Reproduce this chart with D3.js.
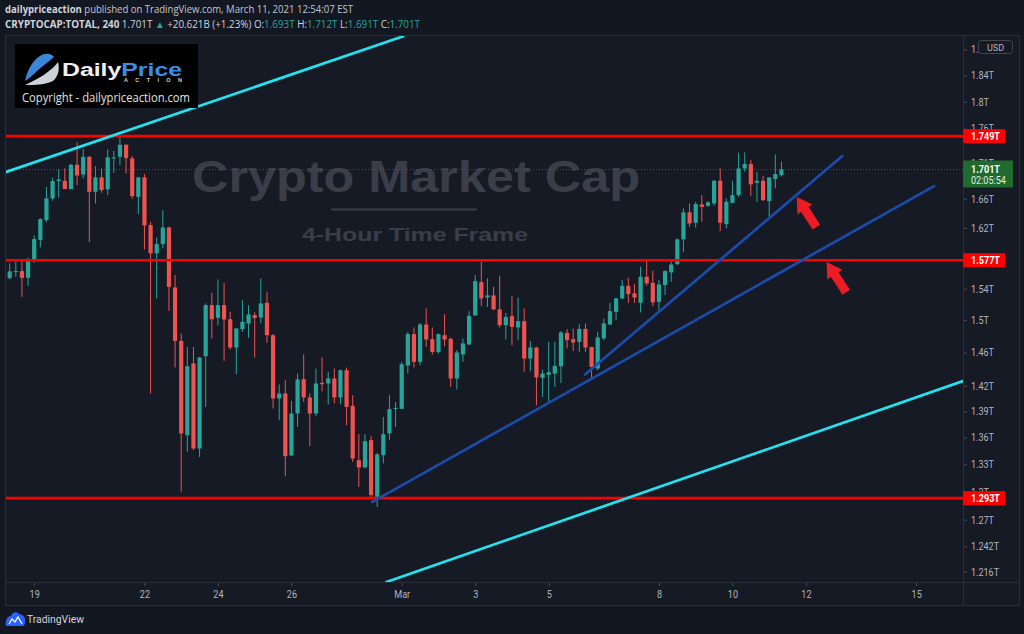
<!DOCTYPE html>
<html><head><meta charset="utf-8">
<script src="https://cdn.jsdelivr.net/npm/d3@7"></script>
<style>
html,body{margin:0;padding:0;background:#131722;overflow:hidden;}
svg{display:block;}
</style></head><body>
<svg id="chart" width="1024" height="634"></svg>
<script>
// ---------------- DATA ----------------
const firstBar = "2021-02-18T04:00";
const barHours = 4;
const opens = [1.5471,1.5536,1.5620,1.5627,1.5540,1.5771,1.6040,1.6307,1.6604,1.6846,
1.6850,1.6734,1.7077,1.6940,1.7191,1.6696,1.6898,1.6730,1.7168,1.7191,
1.7364,1.7168,1.6626,1.6898,1.6239,1.5860,1.5983,1.6207,1.5415,1.4743,
1.3627,1.4468,1.3477,1.4556,1.5190,1.5029,1.5190,1.5012,1.4662,1.4888,
1.4959,1.5063,1.5034,1.5219,1.4813,1.4051,1.4110,1.3399,1.3876,1.4279,
1.4063,1.3876,1.4235,1.4228,1.4288,1.4063,1.4387,1.3965,1.3346,1.3266,
1.3571,1.2944,1.3402,1.3647,1.3930,1.3930,1.4443,1.4826,1.4487,1.4946,
1.4764,1.4605,1.4813,1.4768,1.4288,1.4577,1.4699,1.5059,1.5484,1.5287,
1.5313,1.5135,1.4937,1.5050,1.4909,1.4987,1.4528,1.4662,1.4295,1.4331,
1.4347,1.4435,1.4842,1.4764,1.4731,1.4891,1.4669,1.4407,1.4773,1.4946,
1.5105,1.5275,1.5436,1.5339,1.5219,1.5553,1.5475,1.5232,1.5445,1.5610,
1.5718,1.6046,1.6412,1.6270,1.6521,1.6502,1.6535,1.6850,1.6252,1.6544,
1.6650,1.7025,1.7087,1.6822,1.6850,1.6567,1.6874,1.693];
const highs = [1.5562,1.5728,1.5749,1.5758,1.5802,1.6099,1.6330,1.6762,1.6892,1.7011,
1.7025,1.7091,1.7399,1.7302,1.7201,1.7058,1.7025,1.7297,1.7277,1.7471,
1.7374,1.7201,1.6906,1.6944,1.6283,1.6073,1.6443,1.6216,1.5575,1.4834,
1.4669,1.4669,1.4548,1.5211,1.5346,1.5519,1.5475,1.5105,1.4904,1.5253,
1.5190,1.5097,1.5532,1.5359,1.4826,1.4216,1.4267,1.4023,1.4347,1.4577,
1.4110,1.4407,1.4540,1.4367,1.4407,1.4395,1.4419,1.4090,1.3639,1.3639,
1.3619,1.3428,1.3837,1.4090,1.4011,1.4487,1.4854,1.4909,1.4966,1.5148,
1.4909,1.4834,1.5076,1.4785,1.4629,1.4773,1.5113,1.5575,1.5749,1.5532,
1.5423,1.5566,1.5092,1.5304,1.5287,1.5148,1.4740,1.4669,1.4395,1.4731,
1.4731,1.4863,1.4888,1.4896,1.4950,1.4959,1.4669,1.4854,1.5021,1.5219,
1.5282,1.5510,1.5540,1.5458,1.5683,1.5762,1.5631,1.5510,1.5640,1.5762,
1.6059,1.6466,1.6535,1.6557,1.6650,1.6567,1.6860,1.7025,1.6604,1.6850,
1.7249,1.7254,1.7144,1.6977,1.6920,1.6898,1.7225,1.712];
const lows = [1.5445,1.5519,1.5553,1.5295,1.5436,1.5736,1.5939,1.6279,1.6571,1.6613,
1.6734,1.6730,1.6790,1.6884,1.6010,1.6535,1.6682,1.6650,1.6963,1.7072,
1.6954,1.6599,1.6388,1.5912,1.4110,1.5275,1.5926,1.5117,1.4419,1.3000,
1.3439,1.3458,1.3383,1.3953,1.4773,1.4937,1.4499,1.4637,1.4339,1.4854,
1.4780,1.4540,1.4959,1.4719,1.3934,1.3798,1.3170,1.3391,1.3722,1.4011,
1.3503,1.3845,1.4137,1.3981,1.3993,1.3984,1.3742,1.3327,1.3052,1.3255,
1.2938,1.2836,1.3310,1.3571,1.3722,1.3934,1.4347,1.4419,1.4447,1.4669,
1.4577,1.4589,1.4678,1.4188,1.4157,1.4487,1.4690,1.5059,1.5177,1.5168,
1.5126,1.4909,1.4760,1.4690,1.4752,1.4367,1.4379,1.3973,1.4070,1.4011,
1.4188,1.4235,1.4650,1.4620,1.4608,1.4608,1.4288,1.4387,1.4752,1.4937,
1.5000,1.5262,1.5219,1.5219,1.5097,1.5436,1.5177,1.5117,1.5317,1.5488,
1.5705,1.5873,1.6216,1.6202,1.6283,1.6488,1.6502,1.6158,1.6194,1.6535,
1.6626,1.6977,1.6636,1.6557,1.6567,1.6351,1.6744,1.691];
const closes = [1.5549,1.5623,1.5627,1.5540,1.5758,1.6050,1.6320,1.6604,1.6846,1.6867,
1.6734,1.7077,1.6926,1.7191,1.6696,1.6898,1.6720,1.7182,1.7182,1.7364,
1.7172,1.6636,1.6898,1.6235,1.5860,1.5983,1.6207,1.5423,1.4743,1.3647,
1.4435,1.3477,1.4540,1.5190,1.5012,1.5190,1.5009,1.4662,1.4896,1.4979,
1.5072,1.5029,1.5211,1.4813,1.4051,1.4110,1.3391,1.3876,1.4276,1.4063,
1.3876,1.4228,1.4220,1.4288,1.4063,1.4387,1.3953,1.3365,1.3266,1.3560,
1.2963,1.3410,1.3639,1.3926,1.3941,1.4459,1.4826,1.4487,1.4946,1.4760,
1.4608,1.4826,1.4760,1.4288,1.4601,1.4711,1.5054,1.5497,1.5275,1.5313,
1.5135,1.4937,1.5041,1.4916,1.4987,1.4528,1.4662,1.4300,1.4347,1.4363,
1.4439,1.4847,1.4752,1.4723,1.4891,1.4662,1.4427,1.4785,1.4959,1.5113,
1.5275,1.5436,1.5330,1.5287,1.5553,1.5467,1.5224,1.5454,1.5627,1.5714,
1.6046,1.6412,1.6261,1.6526,1.6488,1.6549,1.6850,1.6270,1.6557,1.6650,
1.7025,1.7087,1.6800,1.6850,1.6581,1.6898,1.6944,1.701];

const xTickDates = ["2021-02-19","2021-02-22","2021-02-24","2021-02-26","2021-03-01","2021-03-03","2021-03-05","2021-03-08","2021-03-10","2021-03-12","2021-03-15"];
const xTickLabels = ["19","22","24","26","Mar","3","5","8","10","12","15"];
const yTickValues = [1.216,1.242,1.27,1.3,1.33,1.36,1.39,1.42,1.46,1.5,1.54,1.62,1.66,1.71,1.76,1.8,1.84,1.88];
const yTickLabels = ["1.216T","1.242T","1.27T","1.3T","1.33T","1.36T","1.39T","1.42T","1.46T","1.5T","1.54T","1.62T","1.66T","1.71T","1.76T","1.8T","1.84T","1.88T"];
const levelPrices = [1.749, 1.577, 1.293];
const levelLabels = ["1.749T","1.577T","1.293T"];
const lastPrice = 1.701;
const lastPriceLabel = "1.701T";
const countdown = "02:05:54";
// trend lines: [startTime, startPrice, endTime, endPrice]
const cyanLines = [
  ["2021-02-18T05:00", 1.697, "2021-03-01T01:00", 1.901],
  ["2021-02-28T14:00", 1.2056, "2021-03-16T06:30", 1.4256]
];
const blueLines = [
  ["2021-02-28T04:40", 1.2887, "2021-03-15T11:40", 1.6776],
  ["2021-03-05T23:45", 1.4335, "2021-03-12T23:45", 1.7201]
];
const arrowTips = [["2021-03-11T18:00", 1.6625], ["2021-03-12T13:30", 1.5745]];

// ---------------- SETUP ----------------
const W = 1024, H = 634;
const pane = {x0: 5, x1: 963, y0: 35, y1: 582, bottom: 605, right: 1019};
const svg = d3.select("#chart");
const parseT = d3.utcParse("%Y-%m-%dT%H:%M");
const parseD = d3.utcParse("%Y-%m-%d");
const t0 = parseT(firstBar);
const bars = opens.map((o, i) => ({t: d3.utcHour.offset(t0, i * barHours), o, h: highs[i], l: lows[i], c: closes[i]}));

const x = d3.scaleUtc().domain([parseD("2021-02-19"), parseD("2021-03-15")]).range([34.2, 34.2 + 24 * 36.75]);
const y = d3.scaleLog().domain([1.2056, 1.903]).range([pane.y1, pane.y0]);

const UP = "#26a69a", DOWN = "#ef5350";
const FONT = "Roboto, 'Liberation Sans', sans-serif";

function condense(sel, f) {
  sel.each(function () {
    const w = this.getComputedTextLength();
    d3.select(this).attr("textLength", w * f).attr("lengthAdjust", "spacingAndGlyphs");
  });
}

// background
svg.append("rect").attr("width", W).attr("height", H).attr("fill", "#131722");
svg.append("rect").attr("x", pane.x0 + 0.5).attr("y", pane.y0 + 0.5)
  .attr("width", pane.right - pane.x0).attr("height", pane.bottom - pane.y0)
  .attr("fill", "#161a25").attr("stroke", "#2a2e39");

const defs = svg.append("defs");
defs.append("clipPath").attr("id", "paneClip").append("rect")
  .attr("x", pane.x0 + 1).attr("y", pane.y0 + 1).attr("width", pane.x1 - pane.x0 - 1).attr("height", pane.y1 - pane.y0 - 1);

// ---------------- WATERMARK ----------------
const wm = svg.append("g");
wm.append("text").attr("x", 192).attr("y", 192).text("Crypto Market Cap")
  .attr("font-family", "'Liberation Sans', Arial, sans-serif").attr("font-weight", "bold").attr("font-size", 45)
  .attr("fill", "#3b3e48").attr("textLength", 448).attr("lengthAdjust", "spacingAndGlyphs");
wm.append("line").attr("x1", 331).attr("x2", 477).attr("y1", 209.5).attr("y2", 209.5).attr("stroke", "#3b3e48").attr("stroke-width", 2);
wm.append("text").attr("x", 302).attr("y", 240.5).text("4-Hour Time Frame")
  .attr("font-family", "'Liberation Sans', Arial, sans-serif").attr("font-weight", "bold").attr("font-size", 18.5)
  .attr("fill", "#3b3e48").attr("textLength", 226).attr("lengthAdjust", "spacingAndGlyphs");

const plot = svg.append("g").attr("clip-path", "url(#paneClip)");

// last price dotted line
plot.append("line").attr("x1", pane.x0).attr("x2", pane.x1)
  .attr("y1", Math.round(y(lastPrice)) + 0.5).attr("y2", Math.round(y(lastPrice)) + 0.5)
  .attr("stroke", "#4c505b").attr("stroke-dasharray", "1 2");

// ---------------- CANDLES ----------------
plot.selectAll("line.wick").data(bars).join("line").attr("class", "wick")
  .attr("x1", d => x(d.t)).attr("x2", d => x(d.t))
  .attr("y1", d => y(d.h)).attr("y2", d => y(d.l))
  .attr("stroke", d => d.c >= d.o ? UP : DOWN).attr("stroke-width", 1);
plot.selectAll("rect.body").data(bars).join("rect").attr("class", "body")
  .attr("x", d => x(d.t) - 2.1).attr("width", 4.2)
  .attr("y", d => Math.min(y(d.o), y(d.c)))
  .attr("height", d => Math.max(1, Math.abs(y(d.o) - y(d.c))))
  .attr("fill", d => d.c >= d.o ? UP : DOWN);

// ---------------- LEVELS ----------------
plot.selectAll("line.level").data(levelPrices).join("line").attr("class", "level")
  .attr("x1", pane.x0).attr("x2", pane.x1)
  .attr("y1", d => y(d)).attr("y2", d => y(d))
  .attr("stroke", "#ff0000").attr("stroke-width", 2.6);

// ---------------- TREND LINES ----------------
function drawLines(data, color, width) {
  plot.selectAll(null).data(data).join("line")
    .attr("x1", d => x(parseT(d[0]))).attr("y1", d => y(d[1]))
    .attr("x2", d => x(parseT(d[2]))).attr("y2", d => y(d[3]))
    .attr("stroke", color).attr("stroke-width", width).attr("stroke-linecap", "round");
}
drawLines(cyanLines, "#22e3f0", 2.7);
drawLines(blueLines, "#1c4cab", 2.7);

// ---------------- ARROWS ----------------
const arrowShape = "M0,0 L9,15 L4.5,15 L4.5,36 L-4.5,36 L-4.5,15 L-9,15 Z";
plot.selectAll("path.arrow").data(arrowTips).join("path").attr("class", "arrow")
  .attr("d", arrowShape)
  .attr("transform", d => `translate(${x(parseT(d[0]))},${y(d[1])}) rotate(-33)`)
  .attr("fill", "#ec1b24");

// ---------------- AXES ----------------
const yAxis = d3.axisRight(y).tickValues(yTickValues).tickFormat((d, i) => yTickLabels[i]).tickSize(4).tickPadding(4);
const yg = svg.append("g").attr("transform", `translate(${pane.x1},0)`).call(yAxis);
yg.select(".domain").remove();
yg.selectAll(".tick line").attr("stroke", "#4a4e59");
yg.selectAll(".tick text").attr("fill", "#b2b5be").attr("font-family", FONT).attr("font-size", 10.5);
condense(yg.selectAll(".tick text"), 0.86);

const xAxis = d3.axisBottom(x).tickValues(xTickDates.map(parseD)).tickFormat((d, i) => xTickLabels[i]).tickSize(4).tickPadding(5);
const xg = svg.append("g").attr("transform", `translate(0,${pane.y1})`).call(xAxis);
xg.select(".domain").remove();
xg.selectAll(".tick line").attr("stroke", "#4a4e59");
xg.selectAll(".tick text").attr("fill", "#b2b5be").attr("font-family", FONT).attr("font-size", 10.5);
condense(xg.selectAll(".tick text"), 0.86);

// separators
svg.append("line").attr("x1", pane.x1 + 0.5).attr("x2", pane.x1 + 0.5).attr("y1", pane.y0).attr("y2", pane.bottom).attr("stroke", "#2a2e39");
svg.append("line").attr("x1", pane.x0).attr("x2", pane.right).attr("y1", pane.y1 + 0.5).attr("y2", pane.y1 + 0.5).attr("stroke", "#2a2e39");

// USD badge
svg.append("rect").attr("x", 978.5).attr("y", 40.5).attr("width", 34).attr("height", 13).attr("rx", 3)
  .attr("fill", "#161a25").attr("stroke", "#434651");
svg.append("text").attr("x", 995.5).attr("y", 50.5).attr("text-anchor", "middle").text("USD")
  .attr("fill", "#b2b5be").attr("font-family", FONT).attr("font-size", 9);

// level labels
const ll = svg.selectAll("g.lvl").data(levelPrices).join("g").attr("class", "lvl")
  .attr("transform", d => `translate(${pane.x1},${y(d)})`);
ll.append("rect").attr("x", 0).attr("y", -7).attr("width", 42).attr("height", 14).attr("fill", "#ff0000");
ll.append("text").attr("x", 8).attr("y", 4).text((d, i) => levelLabels[i])
  .attr("fill", "#ffffff").attr("font-family", FONT).attr("font-weight", "bold").attr("font-size", 10.5);
condense(ll.selectAll("text"), 0.86);

// last price label
const lp = svg.append("g").attr("transform", `translate(${pane.x1},${y(lastPrice)})`);
lp.append("rect").attr("x", 0).attr("y", -9).attr("width", 50).attr("height", 27).attr("fill", "#1e6b2d");
lp.append("text").attr("x", 8).attr("y", 3.5).text(lastPriceLabel)
  .attr("fill", "#ffffff").attr("font-family", FONT).attr("font-weight", "bold").attr("font-size", 10.5);
lp.append("text").attr("x", 8).attr("y", 15).text(countdown)
  .attr("fill", "#e8e8e8").attr("font-family", FONT).attr("font-size", 10.5);
condense(lp.selectAll("text"), 0.86);

// ---------------- LOGO ----------------
const logo = svg.append("g");
logo.append("rect").attr("x", 15).attr("y", 44).attr("width", 183).attr("height", 64).attr("fill", "#000000");
logo.append("path").attr("d", "M25,81 C27,71 32,61 40,56 C45,53 51,53 54,57 C49,62 42,66 37,71 C32,76 28,79 25,81 Z").attr("fill", "#3a86d8");
logo.append("path").attr("d", "M25,85 C33,81 42,77 49,71 C53,68 56,65 58,62 C60,69 58,77 53,81 C45,85 35,85 25,85 Z").attr("fill", "#cdd1d8");
const lt = logo.append("text").attr("x", 62).attr("y", 76).attr("font-family", "'Liberation Sans', Arial, sans-serif")
  .attr("font-weight", "bold").attr("font-size", 18).attr("textLength", 120).attr("lengthAdjust", "spacingAndGlyphs");
lt.append("tspan").text("Daily").attr("fill", "#f0f0f0");
lt.append("tspan").text("Price").attr("fill", "#3a8ee6");
logo.append("text").attr("x", 124).attr("y", 81.5).text("ACTION").attr("fill", "#d0d0d0")
  .attr("font-family", "'Liberation Sans', Arial, sans-serif").attr("font-weight", "bold").attr("font-size", 5.5)
  .attr("textLength", 58).attr("lengthAdjust", "spacing");
logo.append("text").attr("x", 22).attr("y", 102).text("Copyright - dailypriceaction.com").attr("fill", "#e2e2e2")
  .attr("font-family", "'Open Sans', sans-serif").attr("font-size", 12).attr("textLength", 168).attr("lengthAdjust", "spacingAndGlyphs");

// ---------------- HEADER ----------------
const h1 = svg.append("text").attr("x", 5).attr("y", 13).attr("font-family", "'Open Sans', sans-serif").attr("font-size", 10)
  .attr("textLength", 348).attr("lengthAdjust", "spacingAndGlyphs");
h1.append("tspan").text("dailypriceaction").attr("font-weight", "bold").attr("fill", "#d1d4dc");
h1.append("tspan").text(" published on TradingView.com, March 11, 2021 12:54:07 EST").attr("fill", "#c3c6ce");

const h2 = svg.append("text").attr("x", 5).attr("y", 28).attr("font-family", "'Open Sans', sans-serif").attr("font-size", 10)
  .attr("textLength", 415).attr("lengthAdjust", "spacingAndGlyphs");
const seg = [
  ["CRYPTOCAP:TOTAL, 240", "#d1d4dc", "bold"], [" 1.701T ", "#d1d4dc"], ["\u25B2", UP], [" +20.621B (+1.23%) ", "#d1d4dc"],
  ["O:", "#d1d4dc"], ["1.693T", UP], [" H:", "#d1d4dc"], ["1.712T", UP], [" L:", "#d1d4dc"], ["1.691T", UP],
  [" C:", "#d1d4dc"], ["1.701T", UP]
];
seg.forEach(s => h2.append("tspan").text(s[0]).attr("fill", s[1]).attr("font-weight", s[2] || "normal"));

// ---------------- FOOTER ----------------
const ft = svg.append("g");
ft.append("path").attr("d", "M6,626 C5,621 7,616 11,616 C12,612 17,611 19,614 C23,614 26,618 25,622 C25,625 24,626 22,626 Z").attr("fill", "#2962ff");
ft.append("path").attr("d", "M9,624 L12,619 L15,622 L18,617 L22,624").attr("fill", "none").attr("stroke", "#ffffff").attr("stroke-width", 1.3);
ft.append("text").attr("x", 27).attr("y", 623).text("TradingView").attr("fill", "#d1d4dc")
  .attr("font-family", FONT).attr("font-size", 11).attr("textLength", 57).attr("lengthAdjust", "spacingAndGlyphs");
</script>
</body></html>
